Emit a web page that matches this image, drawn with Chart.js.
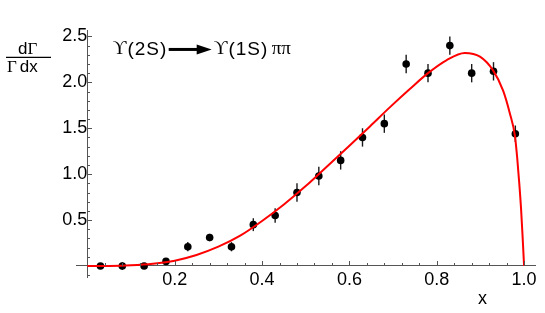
<!DOCTYPE html>
<html><head><meta charset="utf-8">
<script src="https://cdn.jsdelivr.net/npm/chart.js@4/dist/chart.umd.min.js"></script>
<style>html,body{margin:0;padding:0;background:#fff}#wrap{width:545px;height:313px}</style>
</head><body><div id="wrap"><canvas id="c" width="545" height="313"></canvas></div>
<script>
// measured points (x, dGamma/Gamma dx) with errors
const xData = [0.03,0.08,0.13,0.18,0.23,0.28,0.33,0.38,0.43,0.48,0.53,0.58,0.63,0.68,0.73,0.78,0.83,0.88,0.93,0.98];
const yData = [0.00,0.00,0.00,0.05,0.21,0.31,0.21,0.45,0.55,0.80,0.98,1.15,1.40,1.55,2.20,2.10,2.40,2.10,2.12,1.44];
const yErr  = [0.02,0.04,0.03,0.03,0.05,0.04,0.05,0.07,0.08,0.10,0.10,0.10,0.10,0.10,0.10,0.10,0.10,0.10,0.10,0.09];
// fit curve
const curveX = [0,0.05,0.1,0.15,0.2,0.25,0.3,0.35,0.4,0.45,0.5,0.55,0.6,0.647,0.693,0.739,0.78,0.822,0.864,0.899,0.929,0.952,0.967,0.979,0.984,0.989,0.993,0.9966,1.0];
const curveY = [0,0.001,0.008,0.025,0.058,0.12,0.21,0.33,0.49,0.67,0.87,1.09,1.31,1.52,1.73,1.93,2.10,2.24,2.32,2.28,2.13,1.91,1.67,1.42,1.19,0.90,0.63,0.32,0];
// axis ticks
const xTickValues = [0.2,0.4,0.6,0.8,1.0];
const yTickValues = [0.5,1.0,1.5,2.0,2.5];
const xMinorStep = 0.04;
const yMinorStep = 0.1;

const SANS = '"Liberation Sans", Arial, Helvetica, sans-serif';
const SERIF = '"Liberation Serif", "DejaVu Serif", serif';

const decor = {
  id: 'decor',
  beforeDatasetsDraw(chart) {
    const {ctx, scales: {x, y}} = chart;
    ctx.save();
    ctx.strokeStyle = '#1a1a1a';
    ctx.lineWidth = 1.4;
    xData.forEach((v, i) => {
      const px = x.getPixelForValue(v);
      ctx.beginPath();
      ctx.moveTo(px, y.getPixelForValue(yData[i] - yErr[i]));
      ctx.lineTo(px, y.getPixelForValue(yData[i] + yErr[i]));
      ctx.stroke();
    });
    ctx.restore();
  },
  afterDraw(chart) {
    const {ctx, scales: {x, y}} = chart;
    const x0 = x.getPixelForValue(0), y0 = y.getPixelForValue(0);
    ctx.save();
    ctx.strokeStyle = '#555';
    ctx.lineWidth = 1;
    // x ticks (pointing up into plot)
    for (let k = 1; k * xMinorStep <= x.max + 1e-9; k++) {
      const v = +(k * xMinorStep).toFixed(3);
      const major = xTickValues.some(t => Math.abs(t - v) < 1e-6);
      const px = Math.round(x.getPixelForValue(v)) + 0.5;
      ctx.beginPath();
      ctx.moveTo(px, Math.round(y0));
      ctx.lineTo(px, Math.round(y0) - (major ? 5 : 3));
      ctx.stroke();
    }
    // y ticks (pointing right into plot)
    for (let k = -1; k * yMinorStep <= y.max + 1e-9; k++) {
      if (k === 0) continue;
      const v = +(k * yMinorStep).toFixed(3);
      if (v < y.min) continue;
      const major = yTickValues.some(t => Math.abs(t - v) < 1e-6);
      const py = Math.round(y.getPixelForValue(v)) + 0.5;
      ctx.beginPath();
      ctx.moveTo(Math.round(x0), py);
      ctx.lineTo(Math.round(x0) + (major ? 5 : 3), py);
      ctx.stroke();
    }
    ctx.fillStyle = '#000';
    ctx.strokeStyle = '#000';
    // x axis title
    ctx.font = '18px ' + SANS;
    ctx.textAlign = 'center';
    ctx.textBaseline = 'middle';
    ctx.fillText('x', x.getPixelForValue(0.905), y0 + 33);
    // y axis title: fraction dΓ / Γdx
    ctx.textAlign = 'left';
    ctx.textBaseline = 'alphabetic';
    const fx = 7, fyTop = y.getPixelForValue(2.5) + 18, fyBot = fyTop + 18;
    ctx.font = '17px ' + SANS; ctx.fillText('d', fx + 11, fyTop);
    let w = ctx.measureText('d').width;
    ctx.font = '17px ' + SERIF; ctx.fillText('Γ', fx + 11 + w, fyTop);
    ctx.beginPath(); ctx.lineWidth = 1.2;
    ctx.moveTo(fx - 1, fyTop + 3); ctx.lineTo(fx + 44, fyTop + 3); ctx.stroke();
    ctx.font = '17px ' + SERIF; ctx.fillText('Γ', fx, fyBot);
    w = ctx.measureText('Γ').width;
    ctx.font = '17px ' + SANS; ctx.fillText('dx', fx + w + 3, fyBot);
    // process label
    const tx = x.getPixelForValue(0.058), ty = y.getPixelForValue(2.38) + 2;
    ctx.textBaseline = 'middle';
    ctx.letterSpacing = '1px';
    ctx.font = '19px ' + SERIF; ctx.fillText('ϒ', tx, ty);
    let cx = tx + ctx.measureText('ϒ').width;
    ctx.font = '19px ' + SANS; ctx.fillText('(2S)', cx, ty);
    cx = tx + 56;
    // arrow
    ctx.lineWidth = 3;
    ctx.beginPath(); ctx.moveTo(cx, ty); ctx.lineTo(cx + 30, ty); ctx.stroke();
    ctx.beginPath(); ctx.moveTo(cx + 28, ty - 5); ctx.lineTo(cx + 43, ty); ctx.lineTo(cx + 28, ty + 5); ctx.closePath(); ctx.fill();
    cx = tx + 101;
    ctx.font = '19px ' + SERIF; ctx.fillText('ϒ', cx, ty);
    cx += ctx.measureText('ϒ').width;
    ctx.font = '19px ' + SANS; ctx.fillText('(1S)', cx, ty);
    cx = tx + 159;
    ctx.letterSpacing = '0px';
    ctx.font = '19px ' + SERIF; ctx.fillText('ππ', cx, ty);
    ctx.restore();
  }
};

new Chart(document.getElementById('c'), {
  type: 'scatter',
  data: {
    datasets: [
      {
        label: 'fit',
        type: 'line',
        data: curveX.map((v, i) => ({x: v, y: curveY[i]})),
        borderColor: '#ff0000',
        borderWidth: 2,
        pointRadius: 0,
        fill: false,
        cubicInterpolationMode: 'monotone',
        order: 0
      },
      {
        label: 'data',
        data: xData.map((v, i) => ({x: v, y: yData[i]})),
        backgroundColor: '#000',
        borderColor: '#000',
        pointRadius: 3.8,
        pointBorderWidth: 0,
        order: 1
      }
    ]
  },
  options: {
    responsive: false,
    animation: false,
    devicePixelRatio: 1,
    layout: {padding: {left: 76, right: 10, top: 30, bottom: 36}},
    plugins: {legend: {display: false}, tooltip: {enabled: false}},
    scales: {
      x: {
        type: 'linear',
        min: -0.026, max: 1.025,
        position: {y: 0},
        afterBuildTicks: s => { s.ticks = xTickValues.map(v => ({value: v})); },
        ticks: {font: {family: SANS, size: 18}, color: '#000', padding: 3, maxRotation: 0,
                callback: v => v.toFixed(1)},
        grid: {display: false, drawTicks: false},
        border: {display: true, color: '#555', width: 1}
      },
      y: {
        type: 'linear',
        min: -0.12, max: 2.57,
        position: {x: 0},
        afterBuildTicks: s => { s.ticks = yTickValues.map(v => ({value: v})); },
        ticks: {font: {family: SANS, size: 18}, color: '#000', padding: 5,
                callback: v => v.toFixed(1)},
        grid: {display: false, drawTicks: false},
        border: {display: true, color: '#555', width: 1}
      }
    }
  },
  plugins: [decor]
});
</script></body></html>
